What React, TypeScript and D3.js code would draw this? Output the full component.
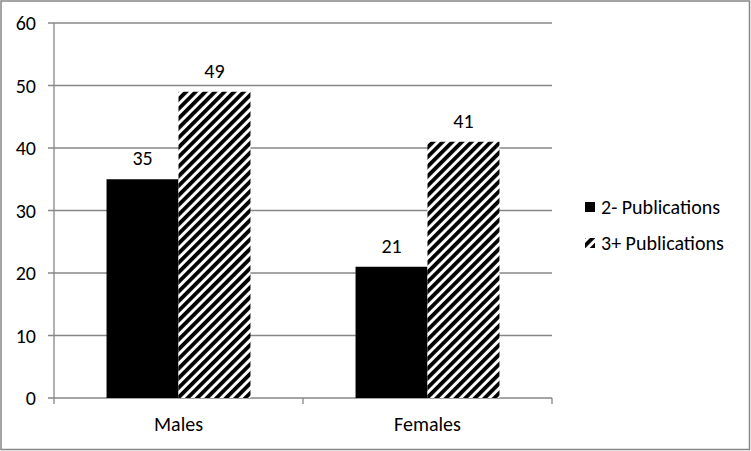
import * as d3 from "d3";

const categories = ["Males", "Females"];
const series = ["2- Publications", "3+ Publications"];
const lowPubs = [35, 21];
const highPubs = [49, 41];
const yTicks = [0, 10, 20, 30, 40, 50, 60];

const W = 751;
const H = 451;
const plot = { left: 54, right: 552, top: 23, bottom: 398 };
const FONT = "Carlito, 'Open Sans', 'Noto Sans', sans-serif";

export default function App() {
  const x = d3.scaleBand().domain(categories).range([plot.left, plot.right]);
  const inner = d3
    .scaleBand()
    .domain(series)
    .range([0, x.bandwidth()])
    .paddingInner(0)
    .paddingOuter(0.73);
  const y = d3.scaleLinear().domain([0, 60]).range([plot.bottom, plot.top]);

  const rows = categories.map((c, i) => ({ cat: c, vals: [lowPubs[i], highPubs[i]] }));

  return (
    <svg
      width={W}
      height={H}
      style={{ position: "absolute", left: 0, top: 0, fontFamily: FONT }}
    >
      <defs>
        <pattern
          id="hatch"
          patternUnits="userSpaceOnUse"
          width={6.8}
          height={6.8}
          patternTransform="rotate(45)"
        >
          <rect width={6.8} height={6.8} fill="#fff" />
          <rect width={3.8} height={6.8} fill="#000" />
        </pattern>
      </defs>
      <rect x={0} y={0} width={W} height={H} fill="#fff" />
      <rect x={1} y={1} width={W - 2.5} height={H - 2.5} fill="none" stroke="#878787" strokeWidth={1.5} />

      {/* gridlines and y ticks */}
      {yTicks.map((t) => (
        <g key={t}>
          <line x1={plot.left - 6} x2={plot.right} y1={y(t)} y2={y(t)} stroke="#878787" strokeWidth={1.3} />
          <text x={36} y={y(t)} textAnchor="end" dominantBaseline="central" fontSize={20}>
            {t}
          </text>
        </g>
      ))}
      <line x1={plot.left} x2={plot.left} y1={plot.top} y2={plot.bottom} stroke="#878787" strokeWidth={1.3} />

      {/* category ticks */}
      {[plot.left, ...categories.map((c) => (x(c) as number) + x.bandwidth())].map((px, i) => (
        <line key={i} x1={px} x2={px} y1={plot.bottom} y2={plot.bottom + 6} stroke="#878787" strokeWidth={1.3} />
      ))}

      {rows.map((r) => (
        <g key={r.cat} transform={`translate(${x(r.cat)},0)`}>
          {r.vals.map((v, j) => (
            <g key={j}>
              <rect
                x={inner(series[j])}
                y={y(v)}
                width={inner.bandwidth()}
                height={plot.bottom - y(v)}
                fill={j === 0 ? "#000" : "url(#hatch)"}
              />
              <text
                x={(inner(series[j]) as number) + inner.bandwidth() / 2}
                y={y(v) - 21}
                textAnchor="middle"
                dominantBaseline="central"
                fontSize={20}
              >
                {v}
              </text>
            </g>
          ))}
          <text x={x.bandwidth() / 2} y={424} textAnchor="middle" dominantBaseline="central" fontSize={20}>
            {r.cat}
          </text>
        </g>
      ))}

      {/* legend */}
      {series.map((s, i) => (
        <g key={s} transform={`translate(585,${207 + i * 36})`}>
          <rect x={0} y={-5} width={10} height={10} fill={i === 0 ? "#000" : "url(#hatch)"} />
          <text x={16} y={0} dominantBaseline="central" fontSize={20}>
            {s}
          </text>
        </g>
      ))}
    </svg>
  );
}
